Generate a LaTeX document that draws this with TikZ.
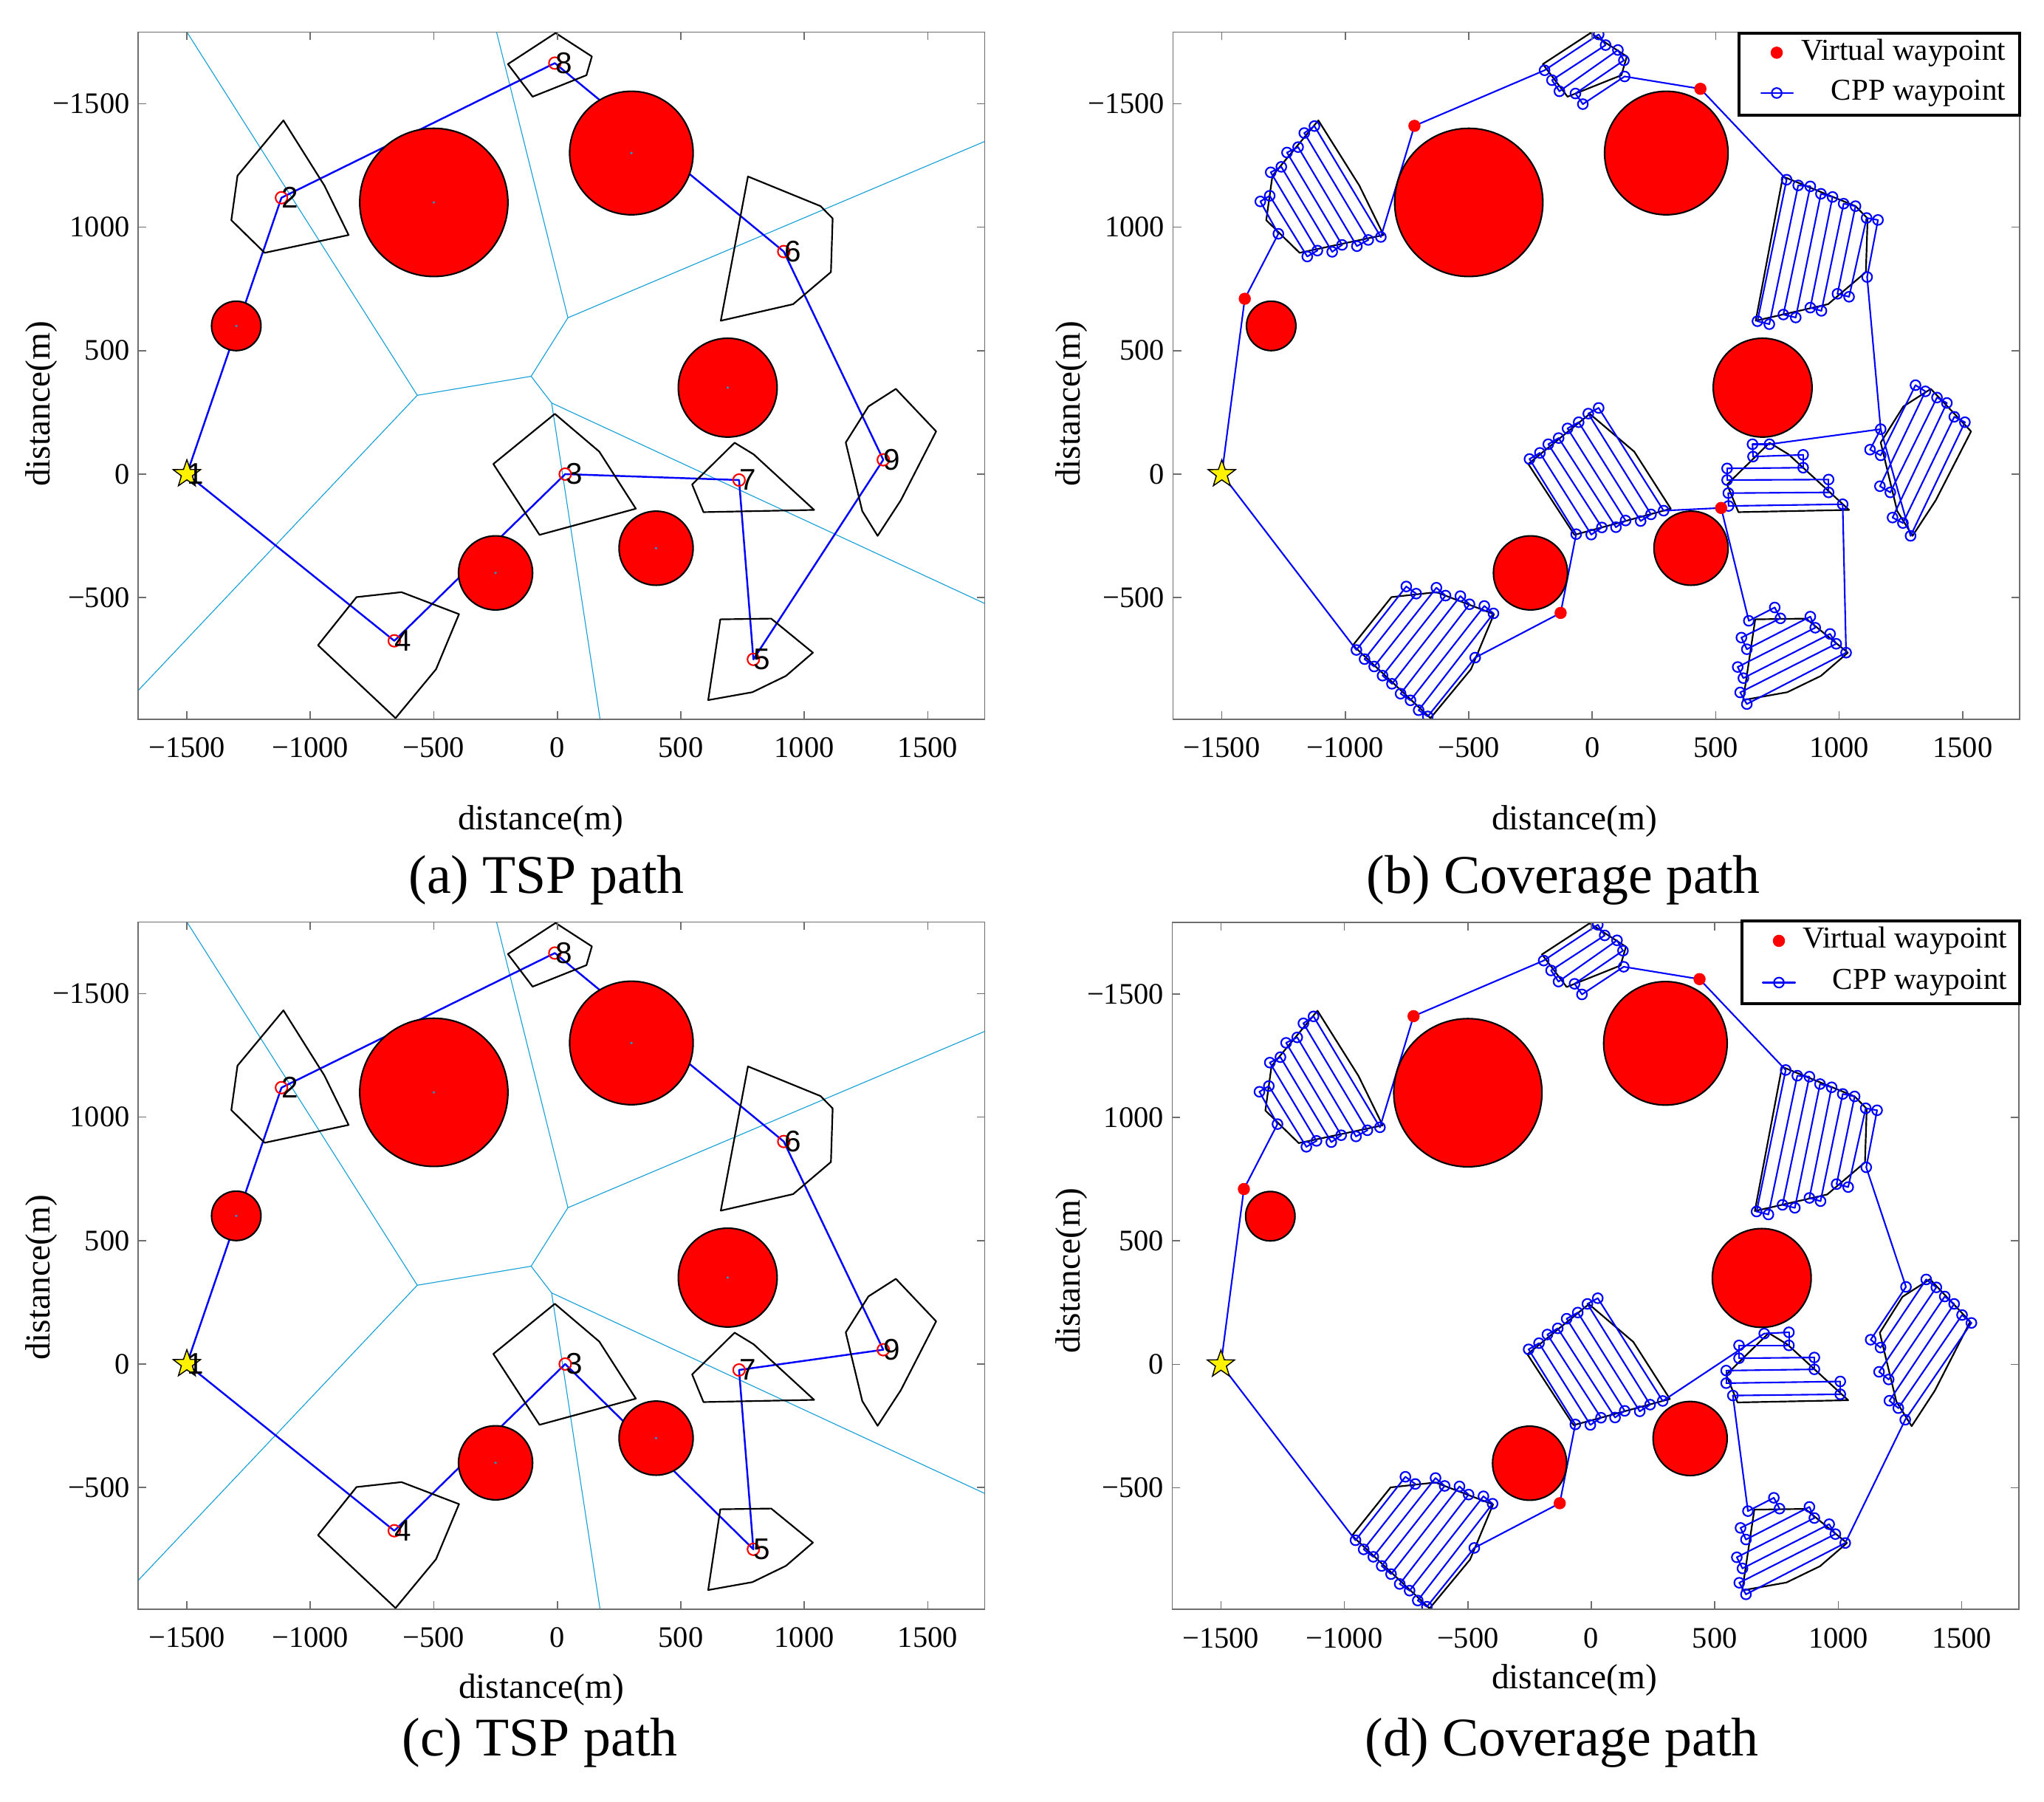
\documentclass[tikz,border=0pt]{standalone}
\usepackage{fontspec}
\setmainfont{Liberation Serif}
\newfontfamily\plotsans{Liberation Sans}
\usetikzlibrary{shapes.geometric}

\definecolor{vorcol}{RGB}{20,160,215}
\definecolor{framecol}{RGB}{110,110,110}

% axes box, ticks and tick labels (data units)
\newcommand{\axesframe}{%
  \draw[frame] (-1697,-992) rectangle (1731,1790);
  \foreach \t in {-1500,-1000,...,1500} {
    \draw[frame] (\t,-992) -- ++(0cm,0.11cm);
    \draw[frame] (\t,1790) -- ++(0cm,-0.11cm);
  }
  \foreach \t in {-500,0,...,1500} {
    \draw[frame] (-1697,\t) -- ++(0.11cm,0cm);
    \draw[frame] (1731,\t) -- ++(-0.11cm,0cm);
  }
  \foreach \t/\s in {-1500/−1500,-1000/−1000,-500/−500,0/0,500/500,1000/1000,1500/1500}
    \node[ticklab] (xt\t) at (\t,-1108) {\s};
  \foreach \t/\s in {1500/−1500,1000/1000,500/500,0/0,-500/−500}
    \node[ticklab, anchor=east] (yt\t) at (-1730,\t) {\s};
}

% voronoi edges
\newcommand{\voronoilines}{%
  \coordinate (q1) at (-567,319);
  \coordinate (q2) at (43,633);
  \coordinate (q3) at (-106,396);
  \coordinate (q4) at (-23,288);
  \coordinate (e1) at (-1500,1790);
  \coordinate (e2) at (-1697,-876);
  \coordinate (e3) at (-246,1790);
  \coordinate (e4) at (1731,1347);
  \coordinate (e5) at (1731,-524);
  \coordinate (e6) at (173,-992);
  \draw[vor] (e1) -- (q1) -- (e2);
  \draw[vor] (e3) -- (q2) -- (e4);
  \draw[vor] (q2) -- (q3) -- (q1);
  \draw[vor] (q3) -- (q4) -- (e5);
  \draw[vor] (q4) -- (e6);
}

% threat circles
\newcommand{\obstacles}{%
  \draw[obst] (-500,1100) circle[radius=300];
  \draw[obst] (300,1300) circle[radius=250];
  \draw[obst] (-1300,600) circle[radius=100];
  \draw[obst] (690,350) circle[radius=200];
  \draw[obst] (-250,-400) circle[radius=150];
  \draw[obst] (400,-300) circle[radius=150];
}
\newcommand{\obstcentres}{%
  \foreach \x/\y in {-500/1100,300/1300,-1300/600,690/350,-250/-400,400/-300}
    \fill[vorcol] (\x,\y) circle[radius=0.018cm];
}

% task regions
\newcommand{\regions}{%
  \draw[region] (-1109,1432) -- (-943,1168) -- (-845,968) -- (-1185,896) -- (-1320,1028) -- (-1295,1208) -- cycle;
  \draw[region] (-7,1786) -- (140,1691) -- (118,1615) -- (-100,1528) -- (-200,1660) -- cycle;
  \draw[region] (772,1205) -- (1066,1085) -- (1115,1035) -- (1108,818) -- (955,688) -- (662,621) -- cycle;
  \draw[region] (1371,345) -- (1534,173) -- (1391,-106) -- (1297,-250) -- (1235,-150) -- (1168,128) -- (1260,274) -- cycle;
  \draw[region] (-10,244) -- (170,91) -- (318,-140) -- (-72,-246) -- (-259,41) -- cycle;
  \draw[region] (718,127) -- (795,80) -- (1040,-145) -- (592,-154) -- (546,-42) -- cycle;
  \draw[region] (-813,-498) -- (-631,-478) -- (-398,-567) -- (-491,-790) -- (-655,-988) -- (-969,-693) -- cycle;
  \draw[region] (660,-588) -- (866,-585) -- (1035,-723) -- (926,-817) -- (790,-883) -- (611,-915) -- cycle;
}

% TSP waypoints
\newcommand{\tspcoords}{%
  \coordinate (w1) at (-1500,0);
  \coordinate (w2) at (-1117,1119);
  \coordinate (w3) at (32,0);
  \coordinate (w4) at (-660,-675);
  \coordinate (w5) at (794,-750);
  \coordinate (w6) at (917,901);
  \coordinate (w7) at (736,-24);
  \coordinate (w8) at (-10,1664);
  \coordinate (w9) at (1320,58);
}
\newcommand{\tspmarks}{%
  \foreach \i in {1,...,9} \node[wp] (m\i) at (w\i) {};
  \node[start] (s1) at (w1) {};
  \foreach \i in {1,...,9} \node[num] (n\i) at (w\i) {\i};
}

% one boustrophedon sweep: name, list of x/y
\newcommand{\sweep}[2]{%
  \foreach [count=\i, remember=\i as \j (initially 0)] \x/\y in {#2} {
    \coordinate (#1-\i) at (\x,\y);
    \ifnum\j>0 \draw[cpp] (#1-\j) -- (#1-\i);\fi
  }
  \foreach [count=\i] \x/\y in {#2} \node[cppmark] (#1m\i) at (#1-\i) {};
}
\newcommand{\cppcommon}{%
  \sweep{b2}{-1271/973,-1344/1104,-1306/1127,-1154/881,-1113/905,-1302/1222,-1259/1244,-1053/900,-1013/928,-1236/1302,-1191/1324,-953/923,-907/948,-1166/1381,-1125/1409,-856/960}
  \sweep{b8}{-193/1635,26/1780,54/1737,-163/1595,-133/1550,104/1717,128/1675,-68/1541,-38/1498,131/1610}
  \sweep{b6}{787/1192,669/619,717/607,834/1169,883/1165,774/646,824/634,926/1135,973/1122,883/674,928/661,1018/1095,1066/1085,993/730,1040/718,1111/1037,1157/1029,1113/798}
  \sweep{b5}{634/-594,739/-540,762/-584,604/-662,626/-709,883/-577,903/-622,589/-781,612/-826,963/-647,988/-687,599/-884,626/-931,1028/-723}
  \sweep{b3}{289/-148,26/268,-16/245,238/-163,196/-190,-55/210,-100/185,135/-188,96/-215,-136/146,-178/121,39/-216,-4/-245,-212/86,-254/61,-65/-243}
  \sweep{b4}{-955/-712,-753/-455,-713/-484,-922/-749,-883/-779,-631/-460,-594/-492,-849/-816,-811/-849,-534/-494,-497/-527,-776/-889,-736/-916,-437/-534,-400/-564,-703/-956,-666/-981,-474/-743}
  \coordinate (w1) at (-1500,0);
  \coordinate (v1) at (-1407,710);
  \coordinate (v2) at (-720,1410);
  \coordinate (v3) at (438,1560);
  \coordinate (v4) at (522,-137);
  \coordinate (v5) at (-128,-562);
}

\begin{document}
\begin{tikzpicture}[
  data/.style={x=0.03345mm, y=0.03345mm},
  frame/.style={draw=framecol, line width=0.45pt},
  obst/.style={fill=red, draw=black, line width=0.6pt},
  region/.style={draw=black, line width=0.62pt, line join=round},
  vor/.style={draw=vorcol, line width=0.32pt},
  tsp/.style={draw=blue, line width=0.7pt, line join=round},
  cpp/.style={draw=blue, line width=0.6pt, line cap=round},
  wp/.style={circle, draw=red, line width=0.6pt, minimum size=1.6mm, inner sep=0pt},
  cppmark/.style={circle, draw=blue, line width=0.6pt, minimum size=1.35mm, inner sep=0pt},
  virt/.style={circle, fill=red, minimum size=1.65mm, inner sep=0pt},
  start/.style={star, star points=5, star point ratio=2.5, fill=yellow, draw=black,
    line width=0.4pt, minimum size=3.9mm, inner sep=0pt},
  num/.style={anchor=west, inner sep=0pt, font=\plotsans\fontsize{11.5}{13}\selectfont},
  ticklab/.style={inner sep=0pt, font=\fontsize{11.5}{13}\selectfont},
  axlab/.style={inner sep=0pt, font=\fontsize{13.5}{15}\selectfont},
  capt/.style={inner sep=0pt, font=\fontsize{21}{24}\selectfont},
  legbox/.style={fill=white, draw=black, line width=0.9pt},
  legtext/.style={anchor=east, inner sep=0pt, font=\fontsize{11.7}{13}\selectfont}
]
\useasboundingbox (0,0) rectangle (27.68,24.40);

% (a) TSP path
\begin{scope}[data, shift={(7.547cm,17.98cm)}]
  \begin{scope}
    \clip (-1697,-992) rectangle (1731,1790);
    \voronoilines
    \tspcoords
    \draw[tsp] (w1) -- (w2) -- (w8) -- (w6) -- (w9) -- (w5) -- (w7) -- (w3) -- (w4) -- (w1);
    \obstacles
    \obstcentres
    \regions
    \tspmarks
  \end{scope}
  \axesframe
\end{scope}

% (b) Coverage path
\begin{scope}[data, shift={(21.562cm,17.98cm)}]
  \begin{scope}
    \clip (-1697,-992) rectangle (1731,1790);
    \regions
    \cppcommon
    \sweep{b9}{1168/182,1125/99,1168/76,1309/360,1349/335,1165/-49,1207/-74,1396/310,1436/288,1216/-176,1258/-198,1466/232,1509/210,1289/-250}
    \sweep{b7}{718/121,649/121,651/71,854/78,854/26,546/23,546/-24,957/-22,957/-74,551/-77,552/-129,1014/-122}
    \draw[cpp] (w1) -- (v1) -- (b2-1);
    \draw[cpp] (b2-16) -- (v2) -- (b8-1);
    \draw[cpp] (b8-10) -- (v3) -- (b6-1);
    \draw[cpp] (b6-18) -- (b9-1);
    \draw[cpp] (b9-14) -- (b9-1) -- (b7-1);
    \draw[cpp] (b7-12) -- (b5-14);
    \draw[cpp] (b5-1) -- (v4) -- (b3-1);
    \draw[cpp] (b3-16) -- (v5) -- (b4-18);
    \draw[cpp] (b4-1) -- (w1);
    \obstacles
    \foreach \i in {1,...,5} \node[virt] (vd\i) at (v\i) {};
    \node[start] (s2) at (w1) {};
  \end{scope}
  \axesframe
\end{scope}

% (c) TSP path
\begin{scope}[data, shift={(7.547cm,5.93cm)}]
  \begin{scope}
    \clip (-1697,-992) rectangle (1731,1790);
    \voronoilines
    \tspcoords
    \draw[tsp] (w1) -- (w2) -- (w8) -- (w6) -- (w9) -- (w7) -- (w5) -- (w3) -- (w4) -- (w1);
    \obstacles
    \obstcentres
    \regions
    \tspmarks
  \end{scope}
  \axesframe
\end{scope}

% (d) Coverage path
\begin{scope}[data, shift={(21.55cm,5.925cm)}]
  \begin{scope}
    \clip (-1697,-992) rectangle (1731,1790);
    \regions
    \cppcommon
    \sweep{d9}{1274/314,1131/100,1171/68,1356/344,1397/312,1165/-30,1204/-61,1431/275,1469/245,1207/-147,1243/-177,1501/200,1539/168,1271/-224}
    \sweep{d7}{700/125,800/130,800/77,598/77,598/25,903/28,903/-20,546/-25,546/-76,1008/-69,1008/-121,573/-126}
    \draw[cpp] (w1) -- (v1) -- (b2-1);
    \draw[cpp] (b2-16) -- (v2) -- (b8-1);
    \draw[cpp] (b8-10) -- (v3) -- (b6-1);
    \draw[cpp] (b6-18) -- (d9-1);
    \draw[cpp] (d9-14) -- (b5-14);
    \draw[cpp] (b5-1) -- (d7-12);
    \draw[cpp] (d7-1) -- (b3-1);
    \draw[cpp] (b3-16) -- (v5) -- (b4-18);
    \draw[cpp] (b4-1) -- (w1);
    \obstacles
    \foreach \i in {1,2,3,5} \node[virt] (ve\i) at (v\i) {};
    \node[start] (s4) at (w1) {};
  \end{scope}
  \axesframe
\end{scope}

% legends
\draw[legbox] (23.55,22.84) rectangle (27.35,23.95);
\node[virt] (lb1) at (24.06,23.686) {};
\node[legtext] (lbt1) at (27.17,23.686) {Virtual waypoint};
\coordinate (lb2a) at (23.85,23.14);
\coordinate (lb2b) at (24.28,23.14);
\draw[cpp] (lb2a) -- (lb2b);
\node[cppmark] (lb2) at (24.06,23.14) {};
\node[legtext] (lbt2) at (27.17,23.14) {CPP waypoint};

\draw[legbox] (23.59,10.81) rectangle (27.35,11.93);
\node[virt] (ld1) at (24.09,11.66) {};
\node[legtext] (ldt1) at (27.19,11.66) {Virtual waypoint};
\coordinate (ld2a) at (23.87,11.095);
\coordinate (ld2b) at (24.31,11.095);
\draw[cpp] (ld2a) -- (ld2b);
\node[cppmark] (ld2) at (24.09,11.095) {};
\node[legtext] (ldt2) at (27.19,11.095) {CPP waypoint};

% axis labels and captions
\node[axlab] (xla) at (7.32,13.28) {distance(m)};
\node[axlab, rotate=90] (yla) at (0.56,18.93) {distance(m)};
\node[capt] (ca) at (7.40,12.48) {(a) TSP path};
\node[axlab] (xlb) at (21.32,13.28) {distance(m)};
\node[axlab, rotate=90] (ylb) at (14.51,18.93) {distance(m)};
\node[capt] (cb) at (21.17,12.48) {(b) Coverage path};
\node[axlab] (xlc) at (7.33,1.52) {distance(m)};
\node[axlab, rotate=90] (ylc) at (0.56,7.10) {distance(m)};
\node[capt] (cc) at (7.31,0.80) {(c) TSP path};
\node[axlab] (xld) at (21.32,1.65) {distance(m)};
\node[axlab, rotate=90] (yld) at (14.51,7.19) {distance(m)};
\node[capt] (cd) at (21.15,0.80) {(d) Coverage path};
\end{tikzpicture}
\end{document}
